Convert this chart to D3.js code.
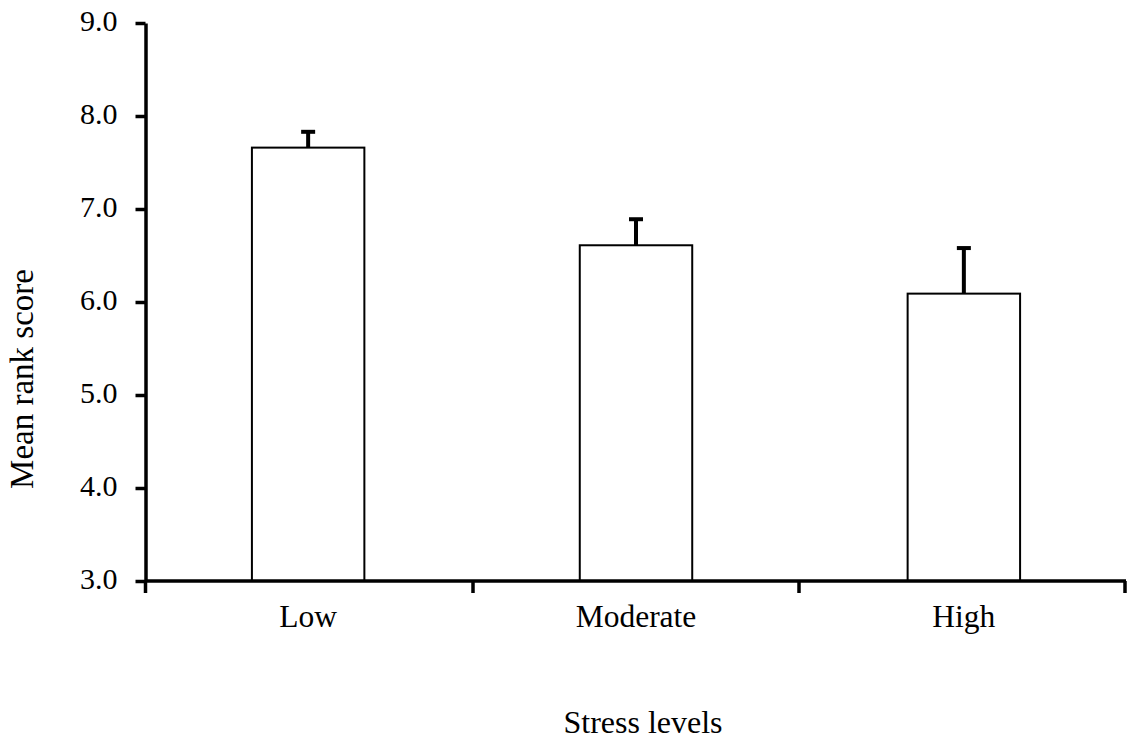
<!DOCTYPE html>
<html>
<head>
<meta charset="utf-8">
<script src="https://cdn.jsdelivr.net/npm/d3@7"></script>
<style>
  body { margin: 0; background: #fff; }
  svg { display: block; font-family: "Liberation Serif", "Times New Roman", serif; }
</style>
</head>
<body>
<div id="chart"></div>
<script>
const categories = ["Low", "Moderate", "High"];
const means = [7.66, 6.61, 6.09];
const errUpper = [7.83, 6.89, 6.58];
const yTicks = [3, 4, 5, 6, 7, 8, 9];

const width = 1127, height = 750;
const plotLeft = 147, plotRight = 1125, plotTop = 23, plotBottom = 581;

const svg = d3.select("#chart").append("svg")
    .attr("width", width)
    .attr("height", height);

const x = d3.scaleBand()
    .domain(categories)
    .range([plotLeft, plotRight])
    .paddingInner(0.657)
    .paddingOuter(0.32);

const y = d3.scaleLinear()
    .domain([3, 9])
    .range([plotBottom, plotTop]);

// bars
svg.append("g")
    .selectAll("rect")
    .data(categories)
    .join("rect")
    .attr("x", d => x(d))
    .attr("y", (d, i) => y(means[i]))
    .attr("width", x.bandwidth())
    .attr("height", (d, i) => y(3) - y(means[i]))
    .attr("fill", "#fff")
    .attr("stroke", "#000")
    .attr("stroke-width", 2);

// error bars (upper only)
const eb = svg.append("g")
    .attr("stroke", "#000")
    .attr("stroke-width", 4);
categories.forEach((c, i) => {
    const cx = x(c) + x.bandwidth() / 2;
    eb.append("line")
        .attr("x1", cx).attr("x2", cx)
        .attr("y1", y(means[i])).attr("y2", y(errUpper[i]));
    eb.append("line")
        .attr("x1", cx - 7).attr("x2", cx + 7)
        .attr("y1", y(errUpper[i])).attr("y2", y(errUpper[i]));
});

// y axis
const yAxis = svg.append("g")
    .attr("transform", `translate(${plotLeft - 1.5},0)`)
    .call(d3.axisLeft(y).tickValues(yTicks).tickFormat(d3.format(".1f")).tickSize(10).tickSizeOuter(0).tickPadding(18));
yAxis.select(".domain").attr("stroke-width", 3.5);
yAxis.selectAll(".tick line").attr("stroke-width", 3.5);
yAxis.selectAll(".tick text")
    .attr("font-size", 30)
    .attr("font-family", "Liberation Serif, Times New Roman, serif")
    .attr("fill", "#000")
    .attr("dy", "0.25em");

// extend y axis below x axis
svg.append("line")
    .attr("x1", plotLeft - 1.5).attr("x2", plotLeft - 1.5)
    .attr("y1", plotBottom).attr("y2", plotBottom + 12)
    .attr("stroke", "#000").attr("stroke-width", 3.5);

// x axis
svg.append("line")
    .attr("x1", plotLeft - 1.5).attr("x2", plotRight + 1)
    .attr("y1", plotBottom).attr("y2", plotBottom)
    .attr("stroke", "#000").attr("stroke-width", 3.5);

const bounds = d3.range(categories.length + 1).map(i => plotLeft + i * (plotRight - plotLeft) / categories.length);
svg.append("g")
    .selectAll("line")
    .data(bounds.slice(1))
    .join("line")
    .attr("x1", d => d).attr("x2", d => d)
    .attr("y1", plotBottom).attr("y2", plotBottom + 12)
    .attr("stroke", "#000").attr("stroke-width", 3.5);

svg.append("g")
    .selectAll("text")
    .data(categories)
    .join("text")
    .attr("x", d => x(d) + x.bandwidth() / 2)
    .attr("y", 627)
    .attr("text-anchor", "middle")
    .attr("font-size", 31.5)
    .text(d => d);

// axis titles
svg.append("text")
    .attr("x", 643)
    .attr("y", 733)
    .attr("text-anchor", "middle")
    .attr("font-size", 32)
    .text("Stress levels");

svg.append("text")
    .attr("transform", "translate(33,379) rotate(-90)")
    .attr("text-anchor", "middle")
    .attr("font-size", 33)
    .text("Mean rank score");
</script>
</body>
</html>
